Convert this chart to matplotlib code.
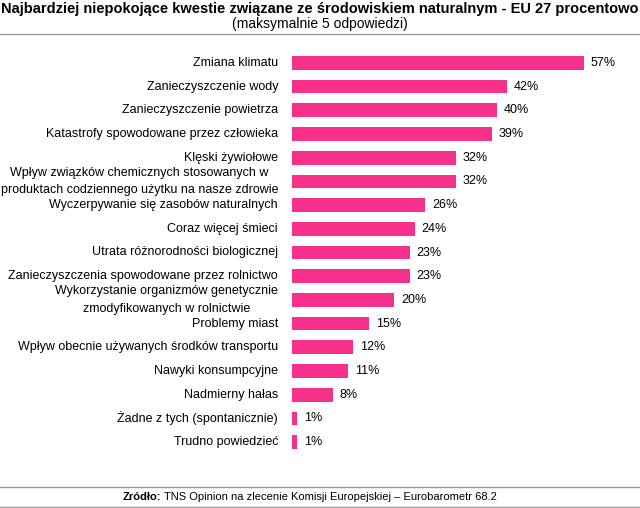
import matplotlib.pyplot as plt
from matplotlib.lines import Line2D

plt.rcParams['font.family'] = ['Liberation Sans', 'DejaVu Sans']

# data
categories = [
    "Zmiana klimatu",
    "Zanieczyszczenie wody",
    "Zanieczyszczenie powietrza",
    "Katastrofy spowodowane przez człowieka",
    "Klęski żywiołowe",
    "Wpływ związków chemicznych stosowanych w\nproduktach codziennego użytku na nasze zdrowie",
    "Wyczerpywanie się zasobów naturalnych",
    "Coraz więcej śmieci",
    "Utrata różnorodności biologicznej",
    "Zanieczyszczenia spowodowane przez rolnictwo",
    "Wykorzystanie organizmów genetycznie\nzmodyfikowanych w rolnictwie",
    "Problemy miast",
    "Wpływ obecnie używanych środków transportu",
    "Nawyki konsumpcyjne",
    "Nadmierny hałas",
    "Żadne z tych (spontanicznie)",
    "Trudno powiedzieć",
]
values = [57, 42, 40, 39, 32, 32, 26, 24, 23, 23, 20, 15, 12, 11, 8, 1, 1]

W, H = 640, 508
fig = plt.figure(figsize=(6.4, 5.08), dpi=100)
fig.patch.set_facecolor('white')

ax = fig.add_axes([292 / W, 1 - 454 / H, 348 / W, 403 / H])
y = list(range(len(values)))
ax.barh(y, values, height=0.58, color='#F5318B')
ax.set_xlim(0, 68)
ax.set_ylim(len(values) - 0.5, -0.5)
ax.axis('off')

for yi, v, lab in zip(y, values, categories):
    ax.annotate(f"{v}%", (v, yi), xytext=(5, 0), textcoords='offset points',
                va='center', ha='left', fontsize=9)
    ax.annotate(lab, (0, yi), xytext=(-10, 0), textcoords='offset points',
                va='center', ha='right', multialignment='center', fontsize=9,
                linespacing=1.6)

# title
fig.text(0.5, 1 - 9 / H, "Najbardziej niepokojące kwestie związane ze środowiskiem naturalnym - EU 27 procentowo",
         ha='center', va='center', fontsize=10.5, fontweight='bold')
fig.text(0.5, 1 - 24 / H, "(maksymalnie 5 odpowiedzi)", ha='center', va='center', fontsize=10)

# separators
for yy in (34, 487, 507):
    fig.add_artist(Line2D([0, 1], [1 - yy / H] * 2, color='#999999', lw=1))

# source
t = fig.text(123 / W, 1 - 497 / H, "Zródło:", ha='left', va='center', fontsize=8, fontweight='bold')
fig.canvas.draw()
bb = t.get_window_extent()
fig.text(bb.x1 / W + 0.004, 1 - 497 / H,
         "TNS Opinion na zlecenie Komisji Europejskiej – Eurobarometr 68.2",
         ha='left', va='center', fontsize=8)

fig.savefig('out.png', dpi=100)
